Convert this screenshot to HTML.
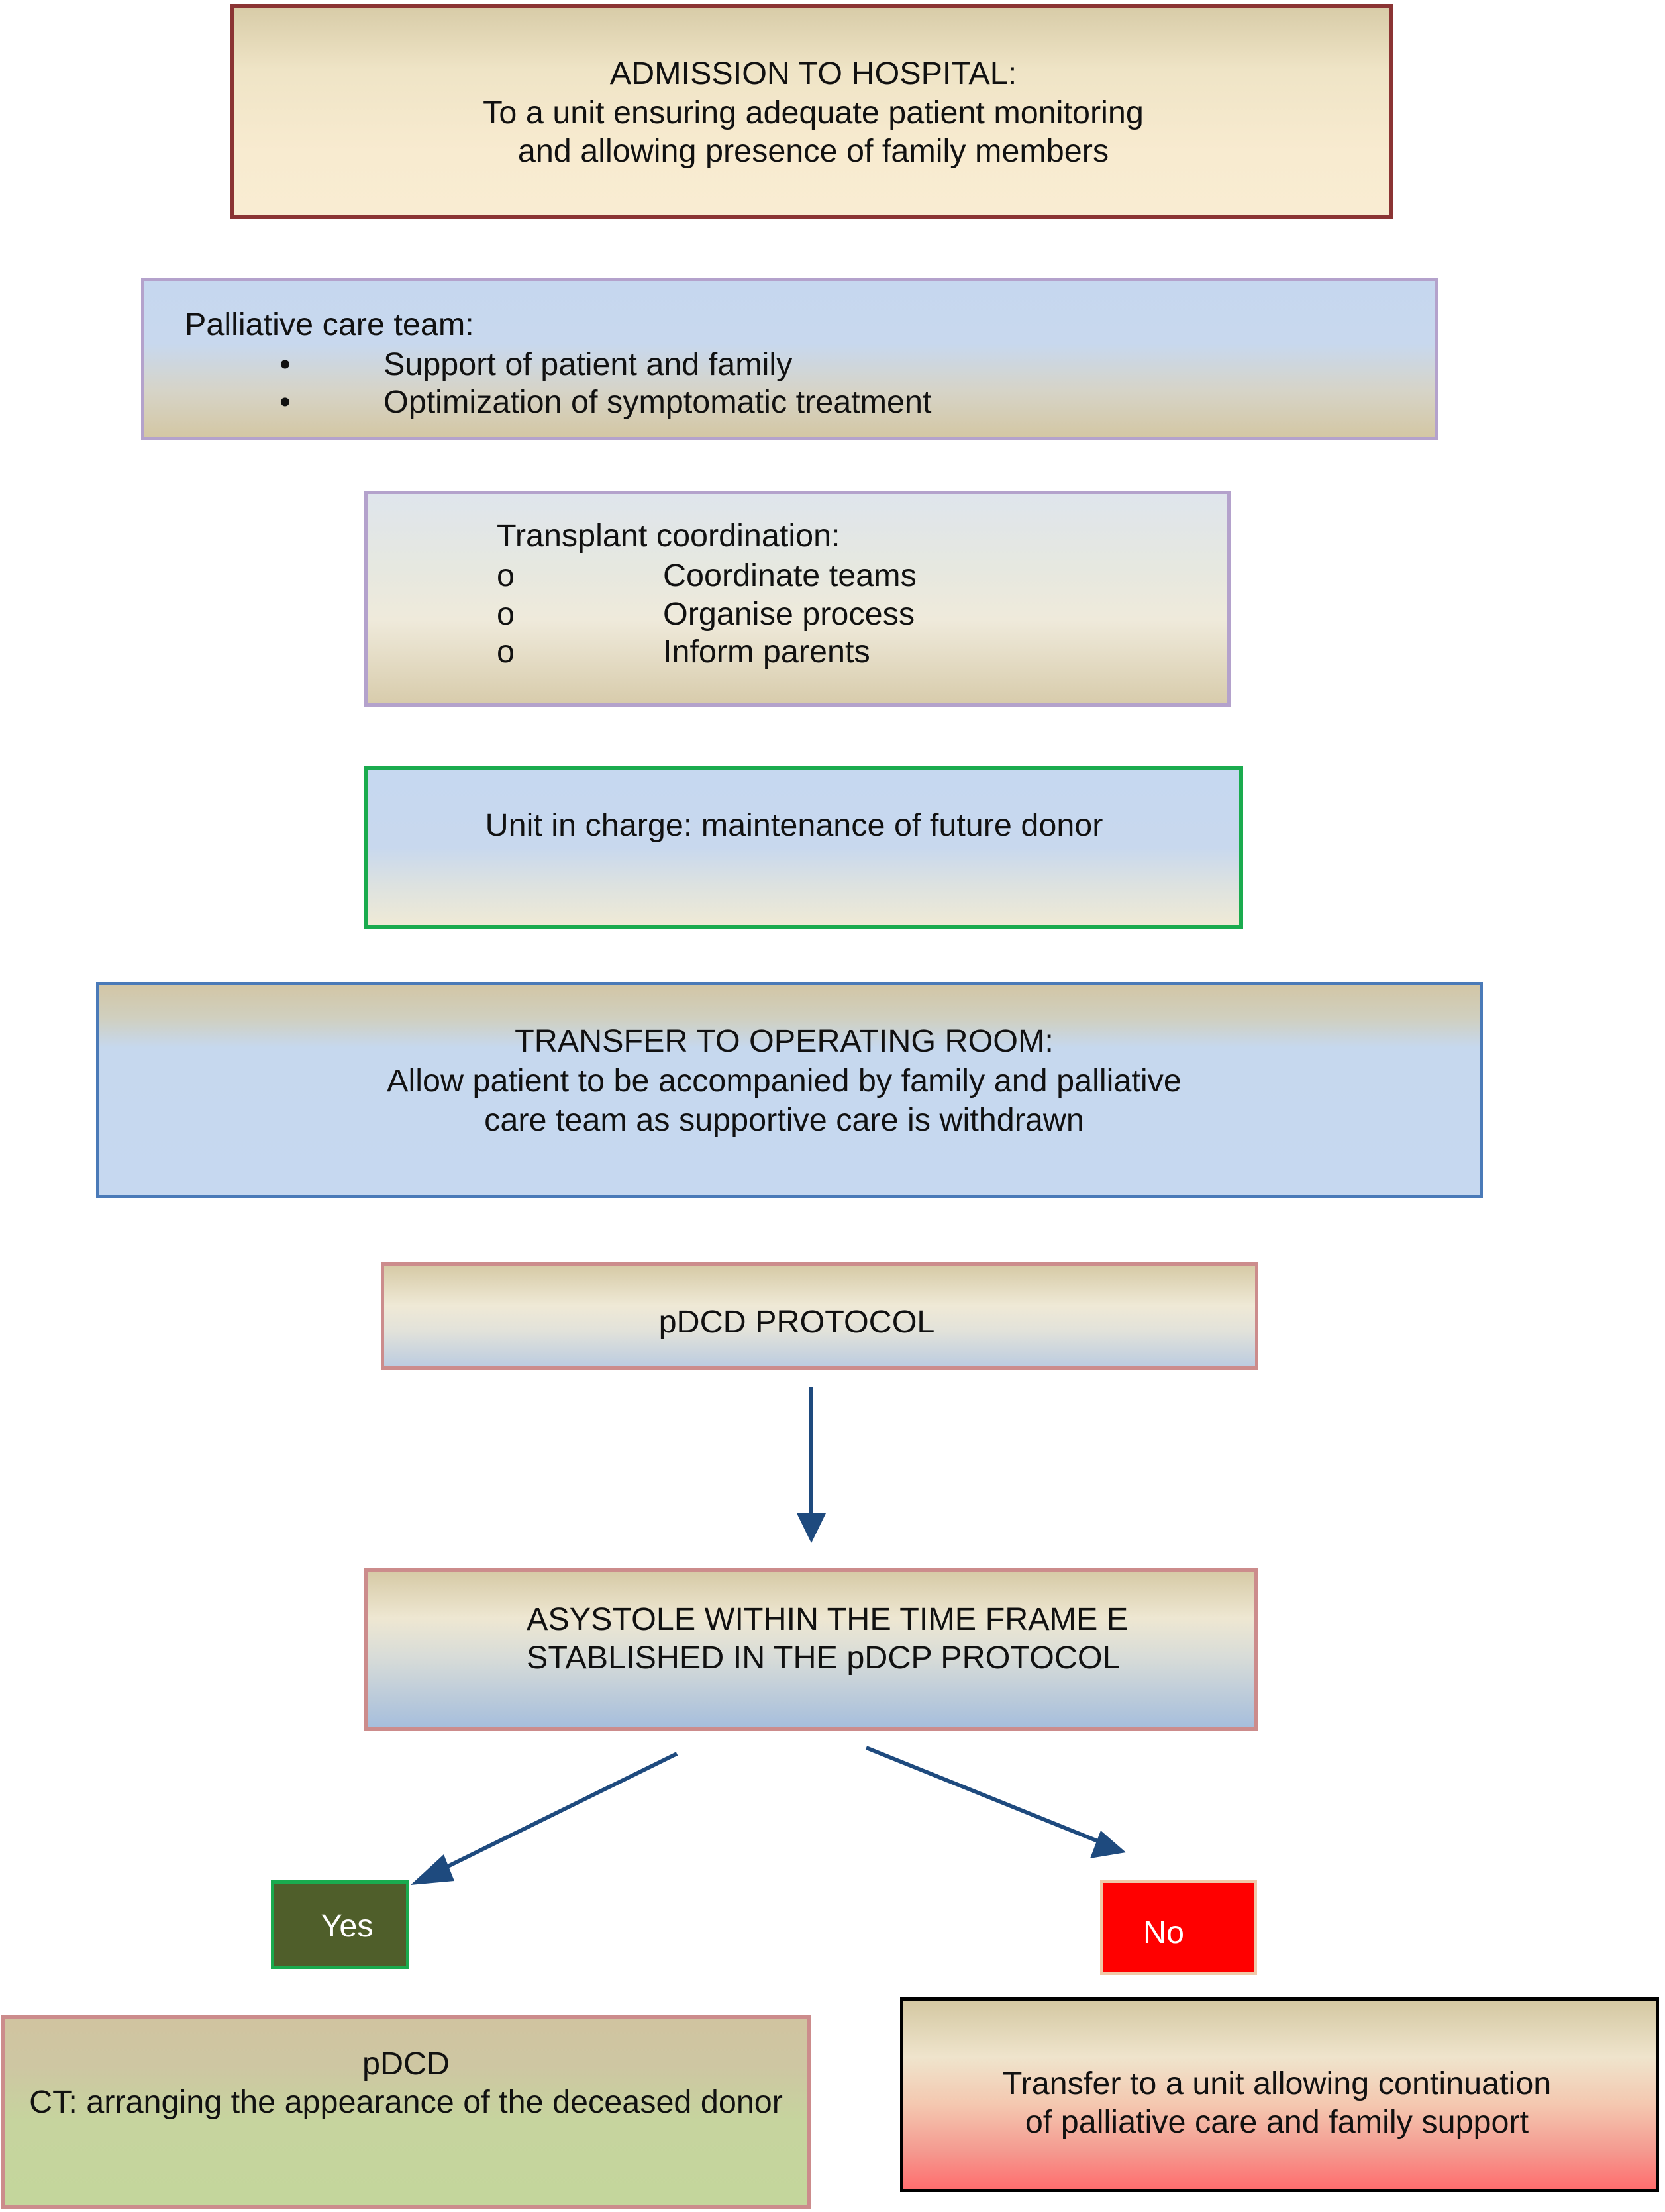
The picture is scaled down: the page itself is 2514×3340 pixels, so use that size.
<!DOCTYPE html>
<html><head><meta charset="utf-8">
<style>
html,body{margin:0;padding:0;background:#fff;}
body{width:2514px;height:3340px;position:relative;overflow:hidden;font-family:"Liberation Sans",sans-serif;font-size:48.5px;color:#111;}
.b{position:absolute;box-sizing:border-box;}
.t{position:absolute;white-space:nowrap;line-height:58px;}
.c{transform:translateX(-50%);}
</style></head><body>

<div class="b" style="left:347px;top:6px;width:1756px;height:324px;border:6px solid #8b3434;background:linear-gradient(#d8cca8 0%,#efe4c6 30%,#f8ebd0 70%,#f9ecd2 100%);"></div>
<div class="t c" style="left:1228px;top:82px;">ADMISSION TO HOSPITAL:</div>
<div class="t c" style="left:1228px;top:141px;">To a unit ensuring adequate patient monitoring</div>
<div class="t c" style="left:1228px;top:199px;">and allowing presence of family members</div>

<div class="b" style="left:213px;top:420px;width:1958px;height:245px;border:5px solid #b4a2cc;background:linear-gradient(#c6d7ef 0%,#c8d8ee 40%,#d6d4c8 70%,#d4c7a4 100%);"></div>
<div class="t" style="left:279px;top:461px;">Palliative care team:</div>
<div class="t" style="left:422px;top:521px;">•</div>
<div class="t" style="left:579px;top:521px;">Support of patient and family</div>
<div class="t" style="left:422px;top:578px;">•</div>
<div class="t" style="left:579px;top:578px;">Optimization of symptomatic treatment</div>

<div class="b" style="left:550px;top:741px;width:1308px;height:326px;border:5px solid #b4a2cc;background:linear-gradient(#dfe5ec 0%,#e6e8e0 35%,#efeadb 60%,#d8ccac 100%);"></div>
<div class="t" style="left:750px;top:780px;">Transplant coordination:</div>
<div class="t" style="left:750px;top:840px;">o</div><div class="t" style="left:1001px;top:840px;">Coordinate teams</div>
<div class="t" style="left:750px;top:898px;">o</div><div class="t" style="left:1001px;top:898px;">Organise process</div>
<div class="t" style="left:750px;top:955px;">o</div><div class="t" style="left:1001px;top:955px;">Inform parents</div>

<div class="b" style="left:550px;top:1157px;width:1327px;height:245px;border:6px solid #1aab4e;background:linear-gradient(#c6d8f0 0%,#c8d8ee 50%,#dde2e0 75%,#efead6 100%);"></div>
<div class="t c" style="left:1199px;top:1217px;">Unit in charge: maintenance of future donor</div>

<div class="b" style="left:145px;top:1483px;width:2094px;height:326px;border:5px solid #4a7ab8;background:linear-gradient(#d2c6a6 0%,#d0cfbe 15%,#c6d8ee 30%,#c6d8f0 100%);"></div>
<div class="t c" style="left:1184px;top:1543px;">TRANSFER TO OPERATING ROOM:</div>
<div class="t c" style="left:1184px;top:1603px;">Allow patient to be accompanied by family and palliative</div>
<div class="t c" style="left:1184px;top:1662px;">care team as supportive care is withdrawn</div>

<div class="b" style="left:575px;top:1906px;width:1325px;height:162px;border:5px solid #cc8c8c;background:linear-gradient(#d6caa6 0%,#efe9d6 40%,#e2e2da 65%,#bccce0 100%);"></div>
<div class="t c" style="left:1203px;top:1967px;">pDCD PROTOCOL</div>

<div class="b" style="left:550px;top:2367px;width:1350px;height:247px;border:6px solid #cc8c8c;background:linear-gradient(#d6caa6 0%,#eee7d2 30%,#d8dcd8 55%,#a6bedc 100%);"></div>
<div class="t" style="left:795px;top:2416px;">ASYSTOLE WITHIN THE TIME FRAME E</div>
<div class="t" style="left:795px;top:2474px;">STABLISHED IN THE pDCP PROTOCOL</div>

<svg class="b" style="left:0;top:0;" width="2514" height="3340">
<g stroke="#1e4a7e" stroke-width="6" fill="#1e4a7e">
<line x1="1225" y1="2094" x2="1225" y2="2290"/>
<polygon points="1203,2285 1247,2285 1225,2330" stroke="none"/>
<line x1="1022" y1="2648" x2="660" y2="2826"/>
<polygon points="620,2846 670,2800 686,2840" stroke="none"/>
<line x1="1308" y1="2639" x2="1660" y2="2781"/>
<polygon points="1700,2797 1646,2806 1662,2764" stroke="none"/>
</g>
</svg>

<div class="b" style="left:409px;top:2839px;width:209px;height:134px;border:5px solid #1aab4e;background:#4f5e2a;"></div>
<div class="t c" style="left:524px;top:2879px;color:#fff;">Yes</div>
<div class="b" style="left:1661px;top:2839px;width:237px;height:143px;border:4px solid #f0c8a8;background:#ff0000;"></div>
<div class="t c" style="left:1757px;top:2889px;color:#fff;">No</div>

<div class="b" style="left:2px;top:3042px;width:1223px;height:294px;border:6px solid #cc8c8c;background:linear-gradient(#d0c4a0 0%,#cec6a2 25%,#c6d49e 55%,#c4d69c 100%);"></div>
<div class="t c" style="left:613px;top:3087px;">pDCD</div>
<div class="t c" style="left:613px;top:3145px;">CT: arranging the appearance of the deceased donor</div>

<div class="b" style="left:1359px;top:3016px;width:1146px;height:294px;border:5px solid #000;background:linear-gradient(#d4c8a2 0%,#efe4cc 30%,#f4c8b0 55%,#f49a90 80%,#ff6e6e 100%);"></div>
<div class="t c" style="left:1928px;top:3117px;">Transfer to a unit allowing continuation</div>
<div class="t c" style="left:1928px;top:3175px;">of palliative care and family support</div>

</body></html>
